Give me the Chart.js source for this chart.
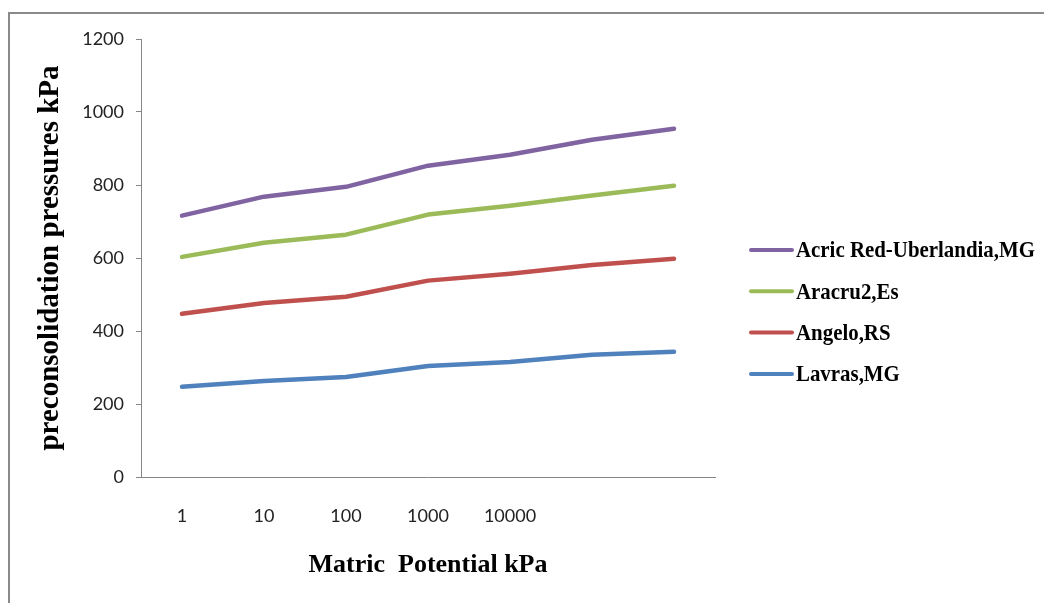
<!DOCTYPE html>
<html lang="en">
<head>
  <meta charset="UTF-8" />
  <title>Preconsolidation pressures vs matric potential</title>
  <script src="https://cdn.jsdelivr.net/npm/chart.js"></script>
  <style>
    html, body { margin: 0; padding: 0; background: #fff; }
    #wrap { position: relative; width: 1044px; height: 603px; overflow: hidden; }
    #frame { position: absolute; left: 8px; top: 12px; width: 1100px; height: 700px;
             border-left: 2px solid #8a8a8a; border-top: 2px solid #8a8a8a; }
    #chart { position: absolute; left: 0; top: 0; }
  </style>
</head>
<body>
  <div id="wrap">
    <div id="frame"></div>
    <canvas id="chart" width="1044" height="603"></canvas>
  </div>

  <script>
    // matric potential (kPa) - the last two categories have no label in the original
    const potentials = ['1', '10', '100', '1000', '10000', '', ''];

    const acricRed = [716, 768, 795, 853, 883, 924, 954];
    const aracru = [603, 642, 664, 719, 743, 771, 798];
    const angelo = [447, 477, 494, 538, 557, 581, 598];
    const lavras = [247, 263, 274, 304, 315, 335, 343];

    const seriesNames = ['Acric Red-Uberlandia,MG', 'Aracru2,Es', 'Angelo,RS', 'Lavras,MG'];
    const seriesColors = ['#8064A2', '#9BBB59', '#C0504D', '#4F81BD'];

    const yTicks = [0, 200, 400, 600, 800, 1000, 1200];

    const serif = '"Liberation Serif", "Times New Roman", serif';

    // legend drawn at the right, like the Excel original
    const sideLegend = {
      id: 'sideLegend',
      afterDraw(chart) {
        const ctx = chart.ctx;
        ctx.save();
        chart.data.datasets.forEach((ds, i) => {
          const y = 250 + i * 41.3;
          ctx.strokeStyle = ds.borderColor;
          ctx.lineWidth = 4;
          ctx.lineCap = 'round';
          ctx.beginPath();
          ctx.moveTo(751, y);
          ctx.lineTo(792, y);
          ctx.stroke();

          ctx.save();
          ctx.translate(796, y);
          ctx.scale(0.87, 1);
          ctx.fillStyle = '#000';
          ctx.font = 'bold 24px ' + serif;
          ctx.textBaseline = 'middle';
          ctx.fillText(ds.label, 0, 1);
          ctx.restore();
        });
        ctx.restore();
      }
    };

    const datasets = [acricRed, aracru, angelo, lavras].map((vals, i) => ({
      label: seriesNames[i],
      data: vals,
      borderColor: seriesColors[i],
      backgroundColor: seriesColors[i],
      borderWidth: 4.5,
      borderCapStyle: 'round',
      borderJoinStyle: 'round',
      pointRadius: 0,
      tension: 0
    }));

    new Chart(document.getElementById('chart'), {
      type: 'line',
      data: { labels: potentials, datasets: datasets },
      plugins: [sideLegend],
      options: {
        responsive: false,
        animation: false,
        layout: { padding: { left: 0, top: 39, right: 329, bottom: 0 } },
        plugins: {
          legend: { display: false },
          tooltip: { enabled: false }
        },
        scales: {
          x: {
            offset: true,
            grid: { drawOnChartArea: false, drawTicks: false, color: '#868686' },
            border: { color: '#868686', width: 1 },
            ticks: {
              padding: 28,
              color: '#222',
              font: { family: 'Lato', size: 18 },
              maxRotation: 0,
              autoSkip: false
            },
            title: {
              display: true,
              text: 'Matric  Potential kPa',
              color: '#000',
              font: { family: serif, size: 26, weight: 'bold' },
              padding: { top: 0, bottom: 22 }
            },
            afterFit(scale) { scale.height = 126; }
          },
          y: {
            min: 0,
            max: 1200,
            afterBuildTicks(scale) { scale.ticks = yTicks.map(v => ({ value: v })); },
            grid: { drawOnChartArea: false, drawTicks: true, tickLength: 5, color: '#868686' },
            border: { color: '#868686', width: 1 },
            ticks: {
              padding: 12,
              color: '#222',
              font: { family: 'Lato', size: 18 },
              callback: (v) => String(v)
            },
            title: {
              display: true,
              text: 'preconsolidation pressures kPa',
              color: '#000',
              font: { family: serif, size: 29, weight: 'bold' },
              padding: { top: 33, bottom: 0 }
            },
            afterFit(scale) { scale.width = 141; }
          }
        }
      }
    });
  </script>
</body>
</html>
